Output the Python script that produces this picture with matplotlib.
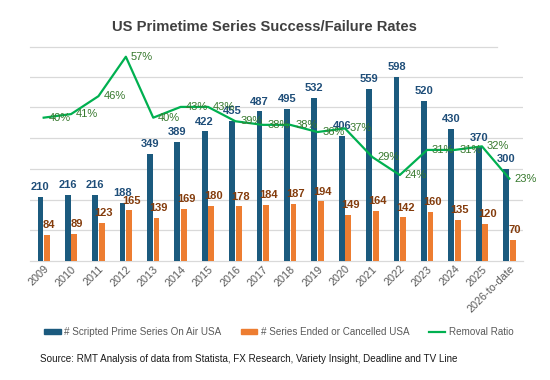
import numpy as np
import matplotlib as mpl
mpl.use("Agg")
import matplotlib.pyplot as plt
from matplotlib.lines import Line2D
from matplotlib.patches import Patch

mpl.rcParams.update({"font.family": ["Liberation Sans", "DejaVu Sans"], "font.size": 7})

years = ["2009", "2010", "2011", "2012", "2013", "2014", "2015", "2016", "2017",
         "2018", "2019", "2020", "2021", "2022", "2023", "2024", "2025", "2026-to-date"]
on_air = [210, 216, 216, 188, 349, 389, 422, 455, 487, 495, 532, 406, 559, 598, 520, 430, 370, 300]
ended = [84, 89, 123, 165, 139, 169, 180, 178, 184, 187, 194, 149, 164, 142, 160, 135, 120, 70]
ratio = [40, 41, 46, 57, 40, 43, 43, 39, 38, 38, 36, 37, 29, 24, 31, 31, 32, 23]

BLUE, BLUE_TXT = "#1B5A7E", "#1F4E79"
ORANGE, ORANGE_TXT = "#ED7D31", "#843C0C"
GREEN, GREEN_TXT = "#00B050", "#37792E"
GRID = "#D9D9D9"
TXT = "#595959"

fig = plt.figure(figsize=(5.5, 3.8), dpi=100)
ax = fig.add_axes([0.0545, 0.313, 0.8965, 0.566])
ax2 = ax.twinx()

x = np.arange(len(years))
w = 0.21
ax.bar(x - 0.12, on_air, w, color=BLUE, zorder=3)
ax.bar(x + 0.12, ended, w, color=ORANGE, zorder=3)
for xi, v in zip(x, on_air):
    ax.annotate(str(v), (xi - 0.12, v), xytext=(0, 3.5), textcoords="offset points",
                ha="center", va="bottom", fontsize=8, fontweight="bold", color=BLUE_TXT, zorder=5)
for xi, v in zip(x, ended):
    ax.annotate(str(v), (xi + 0.12, v), xytext=(1.5, 3.5), textcoords="offset points",
                ha="center", va="bottom", fontsize=8, fontweight="bold", color=ORANGE_TXT, zorder=5)

ax.set_xlim(-0.5, len(years) - 0.5)
ax.set_ylim(0, 700)
ax.set_yticks([100, 200, 300, 400, 500, 600])
ax.yaxis.grid(True, color=GRID, lw=0.9, zorder=0)
ax.set_axisbelow(True)
ax.tick_params(axis="y", left=False, labelleft=False)
ax.tick_params(axis="x", length=0, pad=2, labelsize=7.8, labelcolor=TXT)
ax.set_xticks(x)
ax.set_xticklabels(years, rotation=45, ha="right", rotation_mode="anchor")
for s in ("top", "right", "left"):
    ax.spines[s].set_visible(False)
ax.spines["bottom"].set_color(GRID)
ax.spines["bottom"].set_linewidth(0.9)

r = np.array(ratio) / 100
ax2.plot(x, r, color=GREEN, lw=1.6, zorder=4)
ax2.set_ylim(0, 0.6)
for xi, v in zip(x, ratio):
    ax2.annotate(f"{v}%", (xi, v / 100), xytext=(3.5, 0), textcoords="offset points",
                 ha="left", va="center", fontsize=8, color=GREEN_TXT, zorder=6)
ax2.axis("off")

fig.text(0.48, 0.929, "US Primetime Series Success/Failure Rates", ha="center", va="center",
         fontsize=10.6, fontweight="bold", color="#404040")
fig.add_artist(Line2D([30 / 550, 497 / 550], [1 - 47 / 380] * 2, color=GRID, lw=0.9))

handles = [Patch(color=BLUE), Patch(color=ORANGE), Line2D([], [], color=GREEN, lw=1.6)]
labels = ["# Scripted Prime Series On Air USA", "# Series Ended or Cancelled USA", "Removal Ratio"]
fig.legend(handles, labels, loc="center", bbox_to_anchor=(0.507, 0.126), ncol=3, frameon=False,
           fontsize=7.1, labelcolor=TXT, handlelength=1.65, handleheight=0.5, handletextpad=0.35,
           columnspacing=2.0)

fig.text(40 / 550, 1 - 359 / 380,
         "Source: RMT Analysis of data from Statista, FX Research, Variety Insight, Deadline and TV Line",
         ha="left", va="center", fontsize=7.15, color="#1A1A1A")

fig.savefig("out.png", dpi=100)
